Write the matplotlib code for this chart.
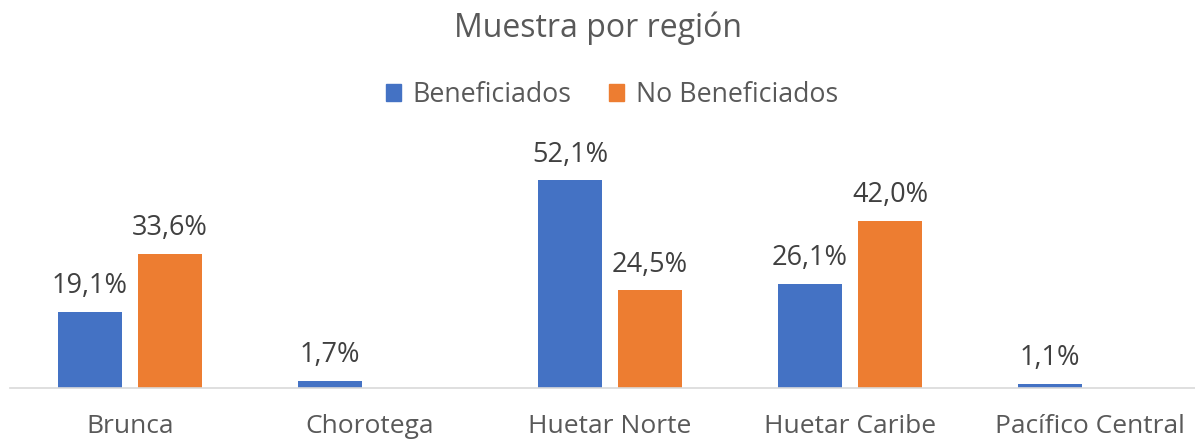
import numpy as np
import matplotlib
matplotlib.use("Agg")
from matplotlib import pyplot as plt
from matplotlib.patches import Patch

regiones = ["Brunca", "Chorotega", "Huetar Norte", "Huetar Caribe", "Pacífico Central"]
beneficiados = [19.1, 1.7, 52.1, 26.1, 1.1]
no_beneficiados = [33.6, None, 24.5, 42.0, None]

azul = "#4472C4"
naranja = "#ED7D31"

plt.rcParams['font.family'] = ['Open Sans', 'DejaVu Sans']

fig = plt.figure(figsize=(11.95, 4.42), dpi=100)
ax = fig.add_axes([10/1195, 54/442, 1 - 10/1195, 239/442])

x = np.arange(len(regiones))
w = 0.267
off = 0.167

def etiqueta(v):
    return ("%.1f%%" % v).replace(".", ",")

def poner(xp, v):
    ax.annotate(etiqueta(v), (xp, v), xytext=(0, 13.5), textcoords="offset points",
                ha="center", va="baseline", fontsize=19.5, color="#404040")

for i in range(len(regiones)):
    b = beneficiados[i]
    ax.bar(x[i] - off, b, w, color=azul)
    poner(x[i] - off, b)
    nb = no_beneficiados[i]
    if nb is not None:
        ax.bar(x[i] + off, nb, w, color=naranja)
        poner(x[i] + off, nb)

ax.set_xlim(-0.5, 4.4375)
ax.set_ylim(0, 60)
ax.set_yticks([])
ax.set_xticks(x)
ax.set_xticklabels(regiones, fontsize=19, color="#595959")
ax.tick_params(axis="x", length=0, pad=19)
for s in ["top", "right", "left"]:
    ax.spines[s].set_visible(False)
ax.spines["bottom"].set_color("#D9D9D9")
ax.spines["bottom"].set_linewidth(1.2)

fig.text(0.5, 1 - 28/442, "Muestra por región", ha="center", va="center",
         fontsize=23, color="#595959")

handles = [Patch(color=azul, label="Beneficiados"),
           Patch(color=naranja, label="No Beneficiados")]
fig.legend(handles=handles, loc="center", bbox_to_anchor=(612/1195, 1 - 95/442),
           ncol=2, frameon=False, fontsize=19.3, labelcolor="#595959",
           handlelength=0.55, handleheight=0.55, handletextpad=0.45, columnspacing=1.4)

fig.savefig("out.png", dpi=100)
